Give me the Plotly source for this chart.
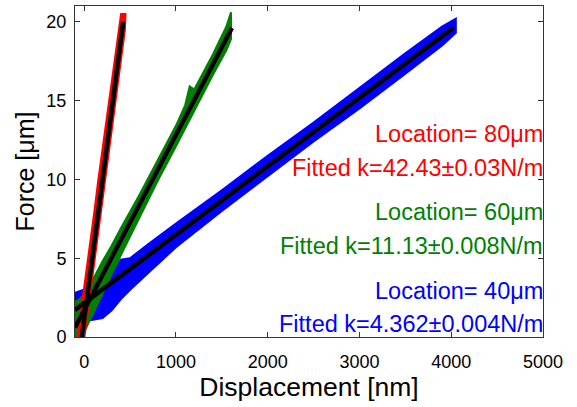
import plotly.graph_objects as go

# ---- data ----
# Location 80 um (red): band given as left/right displacement at force levels
red_force = [0, 1, 2, 4, 6, 8, 10, 12, 14, 16, 18, 19.5, 20.5]
red_left = [-72, -48, -25, 20, 65, 112, 155, 202, 247, 292, 338, 374, 402]
red_right = [3, 25, 47, 92, 137, 182, 228, 273, 318, 364, 410, 444, 450]

# Location 60 um (green): band as lower/upper force at displacement
green_x = [-100, -50, 0, 100, 200, 300, 400, 600, 800, 1000, 1100, 1150, 1200, 1400, 1550, 1600]
green_upper = [2.2, 2.4, 2.7, 3.7, 4.8, 5.8, 6.9, 9.0, 11.2, 13.4, 14.7, 15.9, 15.7, 17.9, 19.7, 20.6]
green_lower = [0, 0, 0.3, 1.5, 2.8, 4.0, 5.2, 7.6, 9.9, 12.1, 13.2, 13.8, 14.4, 16.6, 18.2, 18.9]

# Location 40 um (blue)
blue_x = [-100, -50, 0, 100, 200, 300, 400, 500, 700, 1000, 1500, 2000, 2500, 3000, 3500, 3900, 4050]
blue_upper = [2.8, 2.9, 3.0, 3.2, 3.5, 4.0, 4.9, 5.0, 5.9, 7.2, 9.3, 11.5, 13.6, 15.8, 18.0, 19.7, 20.2]
blue_lower = [0.6, 0.8, 1.0, 1.1, 1.2, 1.7, 2.4, 3.0, 4.1, 5.7, 8.0, 10.2, 12.4, 14.5, 16.7, 18.5, 19.3]

# fitted lines (end points)
fit_red_x = [-25, 425]
fit_red_f = [0, 20.0]
fit_green_x = [-100, 1610]
fit_green_f = [0.6, 19.6]
fit_blue_x = [-100, 4020]
fit_blue_f = [1.72, 19.6]

labels = [
    ("Location= 80\u03bcm", "Fitted k=42.43\u00b10.03N/m", "#ff0000"),
    ("Location= 60\u03bcm", "Fitted k=11.13\u00b10.008N/m", "#008000"),
    ("Location= 40\u03bcm", "Fitted k=4.362\u00b10.004N/m", "#0000ff"),
]

x_ticks = [0, 1000, 2000, 3000, 4000, 5000]
y_ticks = [0, 5, 10, 15, 20]

RED, GREEN, BLUE = "#ff0000", "#008000", "#0000ff"
FONT = "Liberation Sans, Arial"

fig = go.Figure()


def band_xy(x, lo, hi):
    return list(x) + list(x[::-1]), list(hi) + list(lo[::-1])


bx, by = band_xy(blue_x, blue_lower, blue_upper)
fig.add_trace(go.Scatter(x=bx, y=by, fill="toself", fillcolor=BLUE, mode="lines",
                         line=dict(color=BLUE, width=2), hoverinfo="skip"))
gx, gy = band_xy(green_x, green_lower, green_upper)
fig.add_trace(go.Scatter(x=gx, y=gy, fill="toself", fillcolor=GREEN, mode="lines",
                         line=dict(color=GREEN, width=2), hoverinfo="skip"))
rx = list(red_left) + list(red_right[::-1])
ry = list(red_force) + list(red_force[::-1])
fig.add_trace(go.Scatter(x=rx, y=ry, fill="toself", fillcolor=RED, mode="lines",
                         line=dict(color=RED, width=2), hoverinfo="skip"))

for fx, ff in [(fit_blue_x, fit_blue_f), (fit_green_x, fit_green_f), (fit_red_x, fit_red_f)]:
    fig.add_trace(go.Scatter(x=fx, y=ff, mode="lines", line=dict(color="black", width=4.5),
                             hoverinfo="skip"))

row_y = [(12.9, 10.75), (7.9, 5.75), (2.9, 0.85)]
for (l1, l2, c), (y1, y2) in zip(labels, row_y):
    for txt, yy in [(l1, y1), (l2, y2)]:
        fig.add_annotation(x=1.0, xref="paper", y=yy, yref="y", text=txt, showarrow=False,
                           xanchor="right", yanchor="middle", xshift=2,
                           font=dict(color=c, size=23.5, family=FONT))

axis_common = dict(showgrid=False, zeroline=False, showline=True, linecolor="#333333",
                   linewidth=1, mirror="ticks", ticks="inside", ticklen=5,
                   tickcolor="#333333", tickfont=dict(size=18, color="black", family=FONT))

fig.update_xaxes(range=[-100, 5000], tickvals=x_ticks, ticklabelstandoff=8,
                 title=dict(text="Displacement [nm]", standoff=5,
                            font=dict(size=26.5, color="black", family=FONT)),
                 **axis_common)
fig.update_yaxes(range=[0, 21], tickvals=y_ticks, ticklabelstandoff=4,
                 title=dict(text="Force [\u03bcm]", standoff=4,
                            font=dict(size=25, color="black", family=FONT)),
                 **axis_common)

fig.update_layout(width=577, height=407, margin=dict(l=75, r=34, t=6, b=70),
                  paper_bgcolor="white", plot_bgcolor="white", showlegend=False)

fig.write_html("out.html")
